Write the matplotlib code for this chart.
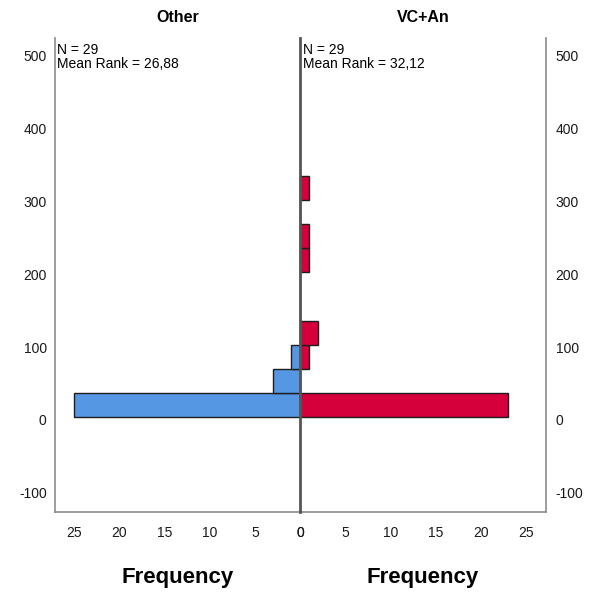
import numpy as np
import matplotlib
matplotlib.use("Agg")
import matplotlib.pyplot as plt

plt.rcParams['font.family'] = ['Liberation Sans', 'DejaVu Sans']
plt.rcParams['axes.unicode_minus'] = False

# histogram bins (value axis) and counts per group
bin_start = 3.7
bin_width = 33.2
other_counts = [25, 3, 1, 0, 0, 0, 0, 0, 0, 0]
vc_counts = [23, 0, 1, 2, 0, 0, 1, 1, 0, 1]
groups = ["Other", "VC+An"]
stats = ["N = 29\nMean Rank = 26,88", "N = 29\nMean Rank = 32,12"]
yticks = [-100, 0, 100, 200, 300, 400, 500]
xticks = [0, 5, 10, 15, 20, 25]

blue = "#5597e3"
red = "#d5003b"
edge = "#1e1e1e"
gray = "#8c8c8c"

bottoms = bin_start + bin_width * np.arange(len(other_counts))

fig = plt.figure(figsize=(5.92, 5.93), dpi=100)
W, H = 592, 593
axL = fig.add_axes([55 / W, 1 - 512 / H, 245 / W, 474 / H])
axR = fig.add_axes([300 / W, 1 - 512 / H, 246 / W, 474 / H])

axL.barh(bottoms, other_counts, height=bin_width, align='edge',
         color=blue, edgecolor=edge, linewidth=1.0)
axR.barh(bottoms, vc_counts, height=bin_width, align='edge',
         color=red, edgecolor=edge, linewidth=1.0)

for ax in (axL, axR):
    ax.set_ylim(-126.4, 524.7)
    ax.set_xlim(0, 27.15)
    ax.set_yticks(yticks)
    ax.set_xticks(xticks)
    ax.tick_params(length=0, labelsize=10, labelcolor="#1a1a1a")
    ax.tick_params(axis='x', pad=10)
    for s in ax.spines.values():
        s.set_color(gray)
        s.set_linewidth(1.2)
    ax.spines['top'].set_visible(False)

axL.invert_xaxis()
axL.spines['right'].set_visible(False)
axR.spines['left'].set_visible(False)
axL.tick_params(axis='y', pad=6)
axR.yaxis.tick_right()
axR.tick_params(axis='y', length=0, pad=7)

# center line
axR.axvline(0, color="#555555", linewidth=2, zorder=5, clip_on=False)

axL.text(0.008, 0.99, stats[0], transform=axL.transAxes, ha='left', va='top',
         fontsize=10, linespacing=1.0)
axR.text(0.012, 0.99, stats[1], transform=axR.transAxes, ha='left', va='top',
         fontsize=10, linespacing=1.0)

fig.text(178 / W, 1 - 18 / H, groups[0], ha='center', va='center',
         fontsize=11.5, fontweight='bold')
fig.text(423 / W, 1 - 18 / H, groups[1], ha='center', va='center',
         fontsize=11.5, fontweight='bold')
fig.text(178 / W, 1 - 578 / H, "Frequency", ha='center', va='center',
         fontsize=16, fontweight='bold')
fig.text(423 / W, 1 - 578 / H, "Frequency", ha='center', va='center',
         fontsize=16, fontweight='bold')

fig.savefig("out.png", dpi=100)
